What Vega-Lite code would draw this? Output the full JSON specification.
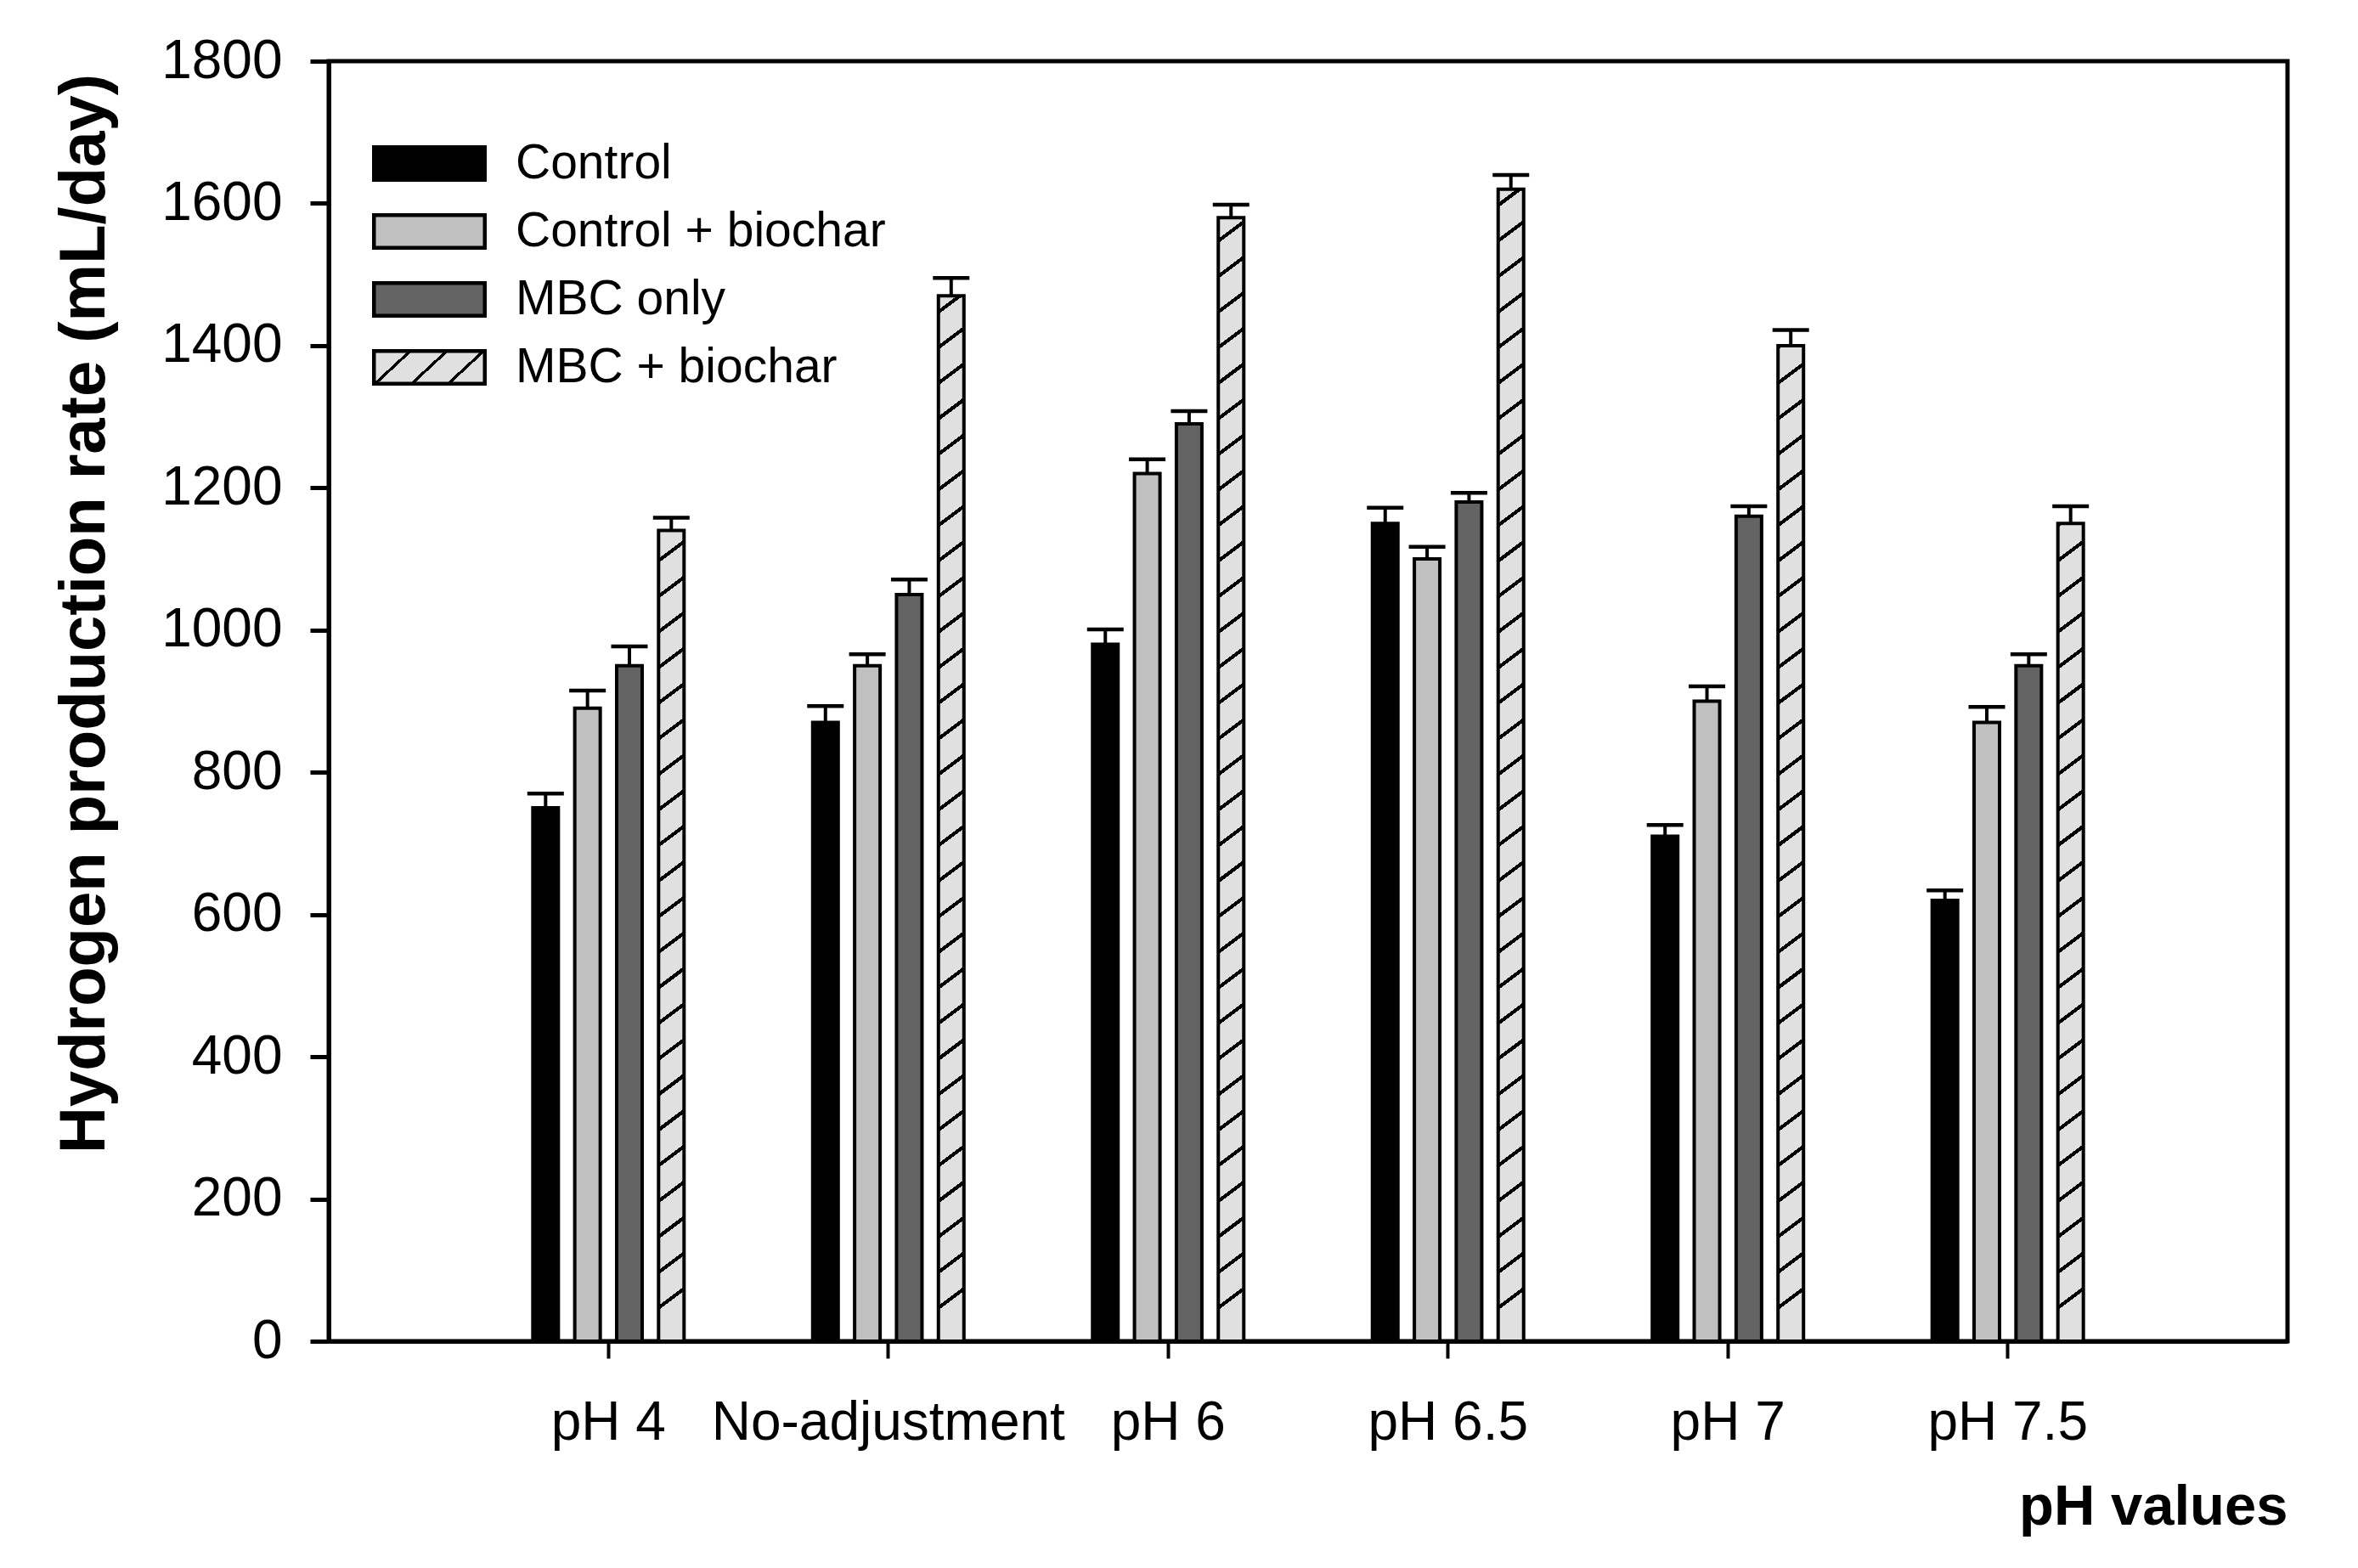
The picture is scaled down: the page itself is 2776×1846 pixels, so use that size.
{
  "$schema": "https://vega.github.io/schema/vega-lite/v6.json",
  "width": 2306,
  "height": 1507,
  "autosize": {"type": "none"},
  "padding": {"left": 387, "top": 72, "right": 83, "bottom": 267},
  "background": "white",
  "params": [
    {"name": "hatchStops", "value": [
      {"offset": 0, "color": "#e0e0e0"},
      {"offset": 0.0243, "color": "#e0e0e0"}, {"offset": 0.0243, "color": "#000000"}, {"offset": 0.0278, "color": "#000000"}, {"offset": 0.0278, "color": "#e0e0e0"},
      {"offset": 0.0521, "color": "#e0e0e0"}, {"offset": 0.0521, "color": "#000000"}, {"offset": 0.0556, "color": "#000000"}, {"offset": 0.0556, "color": "#e0e0e0"},
      {"offset": 0.0798, "color": "#e0e0e0"}, {"offset": 0.0798, "color": "#000000"}, {"offset": 0.0833, "color": "#000000"}, {"offset": 0.0833, "color": "#e0e0e0"},
      {"offset": 0.1076, "color": "#e0e0e0"}, {"offset": 0.1076, "color": "#000000"}, {"offset": 0.1111, "color": "#000000"}, {"offset": 0.1111, "color": "#e0e0e0"},
      {"offset": 0.1354, "color": "#e0e0e0"}, {"offset": 0.1354, "color": "#000000"}, {"offset": 0.1389, "color": "#000000"}, {"offset": 0.1389, "color": "#e0e0e0"},
      {"offset": 0.1632, "color": "#e0e0e0"}, {"offset": 0.1632, "color": "#000000"}, {"offset": 0.1667, "color": "#000000"}, {"offset": 0.1667, "color": "#e0e0e0"},
      {"offset": 0.1909, "color": "#e0e0e0"}, {"offset": 0.1909, "color": "#000000"}, {"offset": 0.1944, "color": "#000000"}, {"offset": 0.1944, "color": "#e0e0e0"},
      {"offset": 0.2187, "color": "#e0e0e0"}, {"offset": 0.2187, "color": "#000000"}, {"offset": 0.2222, "color": "#000000"}, {"offset": 0.2222, "color": "#e0e0e0"},
      {"offset": 0.2465, "color": "#e0e0e0"}, {"offset": 0.2465, "color": "#000000"}, {"offset": 0.25, "color": "#000000"}, {"offset": 0.25, "color": "#e0e0e0"},
      {"offset": 0.2743, "color": "#e0e0e0"}, {"offset": 0.2743, "color": "#000000"}, {"offset": 0.2778, "color": "#000000"}, {"offset": 0.2778, "color": "#e0e0e0"},
      {"offset": 0.3021, "color": "#e0e0e0"}, {"offset": 0.3021, "color": "#000000"}, {"offset": 0.3056, "color": "#000000"}, {"offset": 0.3056, "color": "#e0e0e0"},
      {"offset": 0.3298, "color": "#e0e0e0"}, {"offset": 0.3298, "color": "#000000"}, {"offset": 0.3333, "color": "#000000"}, {"offset": 0.3333, "color": "#e0e0e0"},
      {"offset": 0.3576, "color": "#e0e0e0"}, {"offset": 0.3576, "color": "#000000"}, {"offset": 0.3611, "color": "#000000"}, {"offset": 0.3611, "color": "#e0e0e0"},
      {"offset": 0.3854, "color": "#e0e0e0"}, {"offset": 0.3854, "color": "#000000"}, {"offset": 0.3889, "color": "#000000"}, {"offset": 0.3889, "color": "#e0e0e0"},
      {"offset": 0.4132, "color": "#e0e0e0"}, {"offset": 0.4132, "color": "#000000"}, {"offset": 0.4167, "color": "#000000"}, {"offset": 0.4167, "color": "#e0e0e0"},
      {"offset": 0.4409, "color": "#e0e0e0"}, {"offset": 0.4409, "color": "#000000"}, {"offset": 0.4444, "color": "#000000"}, {"offset": 0.4444, "color": "#e0e0e0"},
      {"offset": 0.4687, "color": "#e0e0e0"}, {"offset": 0.4687, "color": "#000000"}, {"offset": 0.4722, "color": "#000000"}, {"offset": 0.4722, "color": "#e0e0e0"},
      {"offset": 0.4965, "color": "#e0e0e0"}, {"offset": 0.4965, "color": "#000000"}, {"offset": 0.5, "color": "#000000"}, {"offset": 0.5, "color": "#e0e0e0"},
      {"offset": 0.5243, "color": "#e0e0e0"}, {"offset": 0.5243, "color": "#000000"}, {"offset": 0.5278, "color": "#000000"}, {"offset": 0.5278, "color": "#e0e0e0"},
      {"offset": 0.5521, "color": "#e0e0e0"}, {"offset": 0.5521, "color": "#000000"}, {"offset": 0.5556, "color": "#000000"}, {"offset": 0.5556, "color": "#e0e0e0"},
      {"offset": 0.5798, "color": "#e0e0e0"}, {"offset": 0.5798, "color": "#000000"}, {"offset": 0.5833, "color": "#000000"}, {"offset": 0.5833, "color": "#e0e0e0"},
      {"offset": 0.6076, "color": "#e0e0e0"}, {"offset": 0.6076, "color": "#000000"}, {"offset": 0.6111, "color": "#000000"}, {"offset": 0.6111, "color": "#e0e0e0"},
      {"offset": 0.6354, "color": "#e0e0e0"}, {"offset": 0.6354, "color": "#000000"}, {"offset": 0.6389, "color": "#000000"}, {"offset": 0.6389, "color": "#e0e0e0"},
      {"offset": 0.6632, "color": "#e0e0e0"}, {"offset": 0.6632, "color": "#000000"}, {"offset": 0.6667, "color": "#000000"}, {"offset": 0.6667, "color": "#e0e0e0"},
      {"offset": 0.6909, "color": "#e0e0e0"}, {"offset": 0.6909, "color": "#000000"}, {"offset": 0.6944, "color": "#000000"}, {"offset": 0.6944, "color": "#e0e0e0"},
      {"offset": 0.7187, "color": "#e0e0e0"}, {"offset": 0.7187, "color": "#000000"}, {"offset": 0.7222, "color": "#000000"}, {"offset": 0.7222, "color": "#e0e0e0"},
      {"offset": 0.7465, "color": "#e0e0e0"}, {"offset": 0.7465, "color": "#000000"}, {"offset": 0.75, "color": "#000000"}, {"offset": 0.75, "color": "#e0e0e0"},
      {"offset": 0.7743, "color": "#e0e0e0"}, {"offset": 0.7743, "color": "#000000"}, {"offset": 0.7778, "color": "#000000"}, {"offset": 0.7778, "color": "#e0e0e0"},
      {"offset": 0.8021, "color": "#e0e0e0"}, {"offset": 0.8021, "color": "#000000"}, {"offset": 0.8056, "color": "#000000"}, {"offset": 0.8056, "color": "#e0e0e0"},
      {"offset": 0.8298, "color": "#e0e0e0"}, {"offset": 0.8298, "color": "#000000"}, {"offset": 0.8333, "color": "#000000"}, {"offset": 0.8333, "color": "#e0e0e0"},
      {"offset": 0.8576, "color": "#e0e0e0"}, {"offset": 0.8576, "color": "#000000"}, {"offset": 0.8611, "color": "#000000"}, {"offset": 0.8611, "color": "#e0e0e0"},
      {"offset": 0.8854, "color": "#e0e0e0"}, {"offset": 0.8854, "color": "#000000"}, {"offset": 0.8889, "color": "#000000"}, {"offset": 0.8889, "color": "#e0e0e0"},
      {"offset": 0.9132, "color": "#e0e0e0"}, {"offset": 0.9132, "color": "#000000"}, {"offset": 0.9167, "color": "#000000"}, {"offset": 0.9167, "color": "#e0e0e0"},
      {"offset": 0.9409, "color": "#e0e0e0"}, {"offset": 0.9409, "color": "#000000"}, {"offset": 0.9444, "color": "#000000"}, {"offset": 0.9444, "color": "#e0e0e0"},
      {"offset": 0.9687, "color": "#e0e0e0"}, {"offset": 0.9687, "color": "#000000"}, {"offset": 0.9722, "color": "#000000"}, {"offset": 0.9722, "color": "#e0e0e0"},
      {"offset": 0.9965, "color": "#e0e0e0"}, {"offset": 0.9965, "color": "#000000"}, {"offset": 1, "color": "#000000"}
    ]},
    {"name": "hatchLegend", "value": {
      "gradient": "linear", "x1": 0, "y1": 0, "x2": 1, "y2": 0.318,
      "stops": [
        {"offset": 0, "color": "#e0e0e0"},
        {"offset": 0.28, "color": "#e0e0e0"}, {"offset": 0.28, "color": "#000000"}, {"offset": 0.315, "color": "#000000"}, {"offset": 0.315, "color": "#e0e0e0"},
        {"offset": 0.58, "color": "#e0e0e0"}, {"offset": 0.58, "color": "#000000"}, {"offset": 0.615, "color": "#000000"}, {"offset": 0.615, "color": "#e0e0e0"},
        {"offset": 0.88, "color": "#e0e0e0"}, {"offset": 0.88, "color": "#000000"}, {"offset": 0.915, "color": "#000000"}, {"offset": 0.915, "color": "#e0e0e0"},
        {"offset": 1, "color": "#e0e0e0"}
      ]
    }}
  ],
  "data": {"values": [
    {"ph": "pH 4", "series": "Control", "value": 750, "upper": 770},
    {"ph": "pH 4", "series": "Control + biochar", "value": 890, "upper": 915},
    {"ph": "pH 4", "series": "MBC only", "value": 950, "upper": 977},
    {"ph": "pH 4", "series": "MBC + biochar", "value": 1140, "upper": 1158},
    {"ph": "No-adjustment", "series": "Control", "value": 870, "upper": 893},
    {"ph": "No-adjustment", "series": "Control + biochar", "value": 950, "upper": 966},
    {"ph": "No-adjustment", "series": "MBC only", "value": 1050, "upper": 1071},
    {"ph": "No-adjustment", "series": "MBC + biochar", "value": 1470, "upper": 1495},
    {"ph": "pH 6", "series": "Control", "value": 980, "upper": 1001},
    {"ph": "pH 6", "series": "Control + biochar", "value": 1220, "upper": 1240},
    {"ph": "pH 6", "series": "MBC only", "value": 1290, "upper": 1308},
    {"ph": "pH 6", "series": "MBC + biochar", "value": 1580, "upper": 1598},
    {"ph": "pH 6.5", "series": "Control", "value": 1150, "upper": 1172},
    {"ph": "pH 6.5", "series": "Control + biochar", "value": 1100, "upper": 1117},
    {"ph": "pH 6.5", "series": "MBC only", "value": 1180, "upper": 1193},
    {"ph": "pH 6.5", "series": "MBC + biochar", "value": 1620, "upper": 1640},
    {"ph": "pH 7", "series": "Control", "value": 710, "upper": 726},
    {"ph": "pH 7", "series": "Control + biochar", "value": 900, "upper": 921},
    {"ph": "pH 7", "series": "MBC only", "value": 1160, "upper": 1174},
    {"ph": "pH 7", "series": "MBC + biochar", "value": 1400, "upper": 1422},
    {"ph": "pH 7.5", "series": "Control", "value": 620, "upper": 634},
    {"ph": "pH 7.5", "series": "Control + biochar", "value": 870, "upper": 892},
    {"ph": "pH 7.5", "series": "MBC only", "value": 950, "upper": 966},
    {"ph": "pH 7.5", "series": "MBC + biochar", "value": 1150, "upper": 1174}
  ]},
  "encoding": {
    "x": {
      "field": "ph", "type": "nominal",
      "sort": ["pH 4", "No-adjustment", "pH 6", "pH 6.5", "pH 7", "pH 7.5"],
      "scale": {"paddingInner": 0.401, "paddingOuter": 0.7},
      "axis": {
        "labelAngle": 0, "labelFontSize": 64, "labelPadding": 44, "labelColor": "black", "labelLimit": 0,
        "tickSize": 20, "tickWidth": 4, "tickColor": "black",
        "domainWidth": 5, "domainColor": "black",
        "title": "pH values", "titleFontSize": 67, "titleFontWeight": "bold", "titleColor": "black",
        "titleAnchor": "end", "titleAlign": "right", "titleX": 2306, "titleY": 215, "titleBaseline": "alphabetic"
      }
    },
    "xOffset": {
      "field": "series", "type": "nominal",
      "sort": ["Control", "Control + biochar", "MBC only", "MBC + biochar"],
      "scale": {"domain": ["Control", "Control + biochar", "MBC only", "MBC + biochar"], "paddingInner": 0.3915, "paddingOuter": 0.196}
    },
    "y": {
      "field": "value", "type": "quantitative", "stack": null,
      "scale": {"domain": [0, 1800], "nice": false, "zero": true},
      "axis": {
        "values": [0, 200, 400, 600, 800, 1000, 1200, 1400, 1600, 1800], "format": "d",
        "grid": false, "labelFontSize": 64, "labelPadding": 33, "labelColor": "black",
        "tickSize": 22, "tickWidth": 5, "tickColor": "black",
        "domainWidth": 5, "domainColor": "black",
        "title": "Hydrogen production rate (mL/day)", "titleFontSize": 76, "titleFontWeight": "bold", "titleColor": "black",
        "titleAngle": -90, "titleAlign": "center", "titleBaseline": "alphabetic", "titleX": -265, "titleY": 650
      }
    }
  },
  "layer": [
    {
      "transform": [{"filter": "datum.series !== 'MBC + biochar'"}],
      "mark": {"type": "bar", "stroke": "black", "strokeWidth": 4},
      "encoding": {
        "fill": {
          "field": "series", "type": "nominal",
          "scale": {
            "domain": ["Control", "Control + biochar", "MBC only", "MBC + biochar"],
            "range": ["#000000", "#c0c0c0", "#636363", {"expr": "hatchLegend"}]
          },
          "legend": {
            "orient": "none", "legendX": 90, "legendY": 92, "title": null, "padding": 0,
            "symbolType": "M-3.39,-1H3.39V1H-3.39Z", "symbolSize": 1482,
            "symbolStrokeColor": "black", "symbolStrokeWidth": 4.5, "symbolOpacity": 1,
            "labelFontSize": 57, "labelColor": "black", "labelOffset": 73, "labelLimit": 0,
            "rowPadding": 22
          }
        }
      }
    },
    {
      "transform": [{"filter": "datum.series === 'MBC + biochar'"}],
      "mark": {
        "type": "bar", "stroke": "black", "strokeWidth": 4,
        "fill": {"expr": "{gradient: 'linear', x1: 0, y1: 1, x2: -48400/(datum.value*datum.value), y2: 1 - 1800/datum.value, stops: hatchStops}"}
      }
    },
    {
      "mark": {"type": "rule", "stroke": "black", "strokeWidth": 4, "opacity": 1},
      "encoding": {
        "y2": {"field": "upper"}
      }
    },
    {
      "mark": {"type": "tick", "fill": "black", "color": "black", "opacity": 1, "size": 43, "thickness": 4.5},
      "encoding": {
        "y": {
          "field": "upper", "type": "quantitative",
          "axis": {
            "values": [0, 200, 400, 600, 800, 1000, 1200, 1400, 1600, 1800], "format": "d",
            "grid": false, "labelFontSize": 64, "labelPadding": 33, "labelColor": "black",
            "tickSize": 22, "tickWidth": 5, "tickColor": "black",
            "domainWidth": 5, "domainColor": "black",
            "title": "Hydrogen production rate (mL/day)", "titleFontSize": 76, "titleFontWeight": "bold", "titleColor": "black",
            "titleAngle": -90, "titleAlign": "center", "titleBaseline": "alphabetic", "titleX": -265, "titleY": 650
          }
        }
      }
    }
  ],
  "config": {
    "font": "Liberation Sans",
    "view": {"stroke": "black", "strokeWidth": 5},
    "axis": {"labelFont": "Liberation Sans", "titleFont": "Liberation Sans", "grid": false},
    "legend": {"labelFont": "Liberation Sans"}
  }
}
